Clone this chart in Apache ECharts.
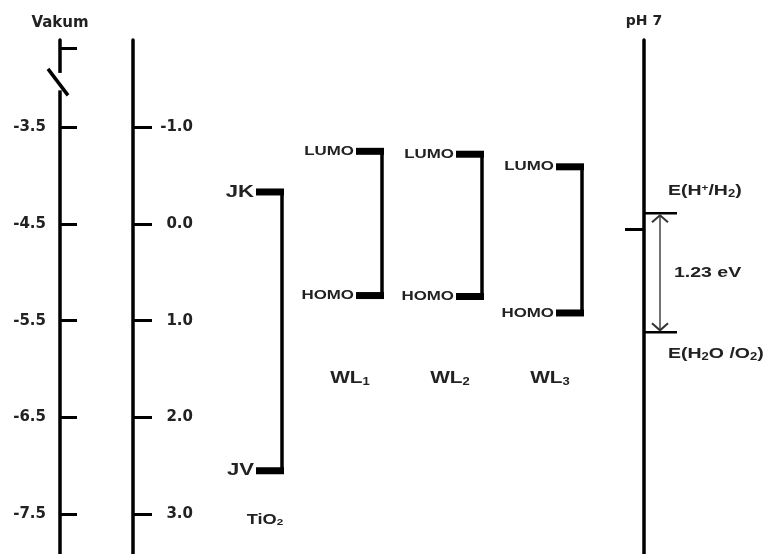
<!DOCTYPE html>
<html>
<head>
<meta charset="utf-8">
<script src="https://cdn.jsdelivr.net/npm/echarts@6/dist/echarts.min.js"></script>
<style>
  html, body { margin: 0; padding: 0; background: #fff; }
  #chart { width: 774px; height: 554px; }
</style>
</head>
<body>
<div id="chart"></div>
<script>
// energy levels, eV vs vacuum
const vakumTicks = [-3.5, -4.5, -5.5, -6.5, -7.5]
const nheTicks = [-1.0, 0.0, 1.0, 2.0, 3.0]
const materials = ['TiO{sub|2}', 'WL{sub|1}', 'WL{sub|2}', 'WL{sub|3}']
const upperNames = ['JK', 'LUMO', 'LUMO', 'LUMO']
const lowerNames = ['JV', 'HOMO', 'HOMO', 'HOMO']
const upperLevels = [-4.17, -3.75, -3.78, -3.91]
const lowerLevels = [-7.05, -5.24, -5.25, -5.42]
const waterNames = ['E(H{sup|+}/H{sub|2})', 'E(H{sub|2}O /O{sub|2})']
const waterLevels = [-4.39, -5.62]
const gapLabel = '1.23 eV'
const phMark = -4.55
const vakumBreak = [-2.94, -3.12]
const vakumTopTick = -2.69

const yTop = -2.6
const yBottom = -7.91
const nheZero = -4.5

const ink = '#222'
const axisFont = { fontFamily: 'DejaVu Sans', fontWeight: 'bold', fontSize: 15, color: ink }

function rich(size) {
  const base = { fontFamily: 'Liberation Sans', fontWeight: 'bold', fill: ink }
  return {
    sub: Object.assign({ fontSize: Math.round(size * 0.65), verticalAlign: 'bottom', padding: [4, 0, 0, 0] }, base),
    sup: Object.assign({ fontSize: Math.round(size * 0.6), verticalAlign: 'top', padding: [0, 0, 6, 0] }, base)
  }
}

function label(x, y, text, size, align) {
  return {
    type: 'text',
    x: x,
    y: y,
    scaleX: 1.3,
    style: {
      text: text,
      fontFamily: 'Liberation Sans',
      fontWeight: 'bold',
      fontSize: size,
      fill: ink,
      align: align,
      verticalAlign: 'middle',
      rich: rich(size)
    }
  }
}

function renderLevels(params, api) {
  const i = params.dataIndex
  const up = api.coord([i, api.value(1)])
  const lo = api.coord([i, api.value(2)])
  const xc = up[0]
  const tio2 = i === 0
  const size = tio2 ? 17 : 13
  const namePos = tio2 ? [xc - 5, lo[1] + 49] : [xc - 20, api.coord([i, -6.1])[1]]
  return {
    type: 'group',
    children: [
      { type: 'rect', shape: { x: xc - 14, y: up[1] - 3.5, width: 28, height: 7 }, style: { fill: '#000' } },
      { type: 'rect', shape: { x: xc - 14, y: lo[1] - 3.5, width: 28, height: 7 }, style: { fill: '#000' } },
      { type: 'line', shape: { x1: xc + 12, y1: up[1], x2: xc + 12, y2: lo[1] }, style: { stroke: '#000', lineWidth: 3.5 } },
      label(xc - 16, up[1], upperNames[i], size, 'right'),
      label(xc - 16, lo[1], lowerNames[i], size, 'right'),
      label(namePos[0], namePos[1], materials[i], tio2 ? 14 : 16, 'center')
    ]
  }
}

function renderWater(params, api) {
  const a = api.coord([1, api.value(1)])
  const b = api.coord([1, api.value(2)])
  const x = a[0]
  const ax = x + 16
  return {
    type: 'group',
    children: [
      { type: 'line', shape: { x1: x, y1: a[1], x2: x + 33, y2: a[1] }, style: { stroke: '#000', lineWidth: 2.5 } },
      { type: 'line', shape: { x1: x, y1: b[1], x2: x + 33, y2: b[1] }, style: { stroke: '#000', lineWidth: 2.5 } },
      { type: 'line', shape: { x1: ax, y1: a[1] + 2, x2: ax, y2: b[1] - 2 }, style: { stroke: '#444', lineWidth: 1.5 } },
      { type: 'polyline', shape: { points: [[ax - 8, a[1] + 9], [ax, a[1] + 2], [ax + 8, a[1] + 9]] }, style: { stroke: '#333', lineWidth: 2, fill: null } },
      { type: 'polyline', shape: { points: [[ax - 8, b[1] - 9], [ax, b[1] - 2], [ax + 8, b[1] - 9]] }, style: { stroke: '#333', lineWidth: 2, fill: null } },
      label(x + 24, a[1] - 22, waterNames[0], 15, 'left'),
      label(x + 30, (a[1] + b[1]) / 2, gapLabel, 15, 'left'),
      label(x + 24, b[1] + 22, waterNames[1], 15, 'left')
    ]
  }
}

function renderBreak(params, api) {
  const a = api.coord([0, api.value(1)])
  const b = api.coord([0, api.value(2)])
  const x = a[0]
  return {
    type: 'group',
    children: [
      { type: 'rect', shape: { x: x - 4, y: a[1], width: 8, height: b[1] - a[1] }, style: { fill: '#fff' } },
      { type: 'line', shape: { x1: x - 12, y1: a[1] - 4, x2: x + 8, y2: b[1] + 5 }, style: { stroke: '#000', lineWidth: 3.5 } }
    ]
  }
}

const chart = echarts.init(document.getElementById('chart'))

chart.setOption({
  animation: false,
  grid: [
    { left: 60, right: 130, top: 40, bottom: 0, outerBoundsMode: 'none' },
    { left: 220, right: 154, top: 40, bottom: 0, outerBoundsMode: 'none' }
  ],
  xAxis: [
    { gridIndex: 0, type: 'value', min: 0, max: 1, show: false },
    { gridIndex: 1, type: 'category', data: materials, show: false }
  ],
  yAxis: [
    {
      gridIndex: 0,
      position: 'left',
      min: yBottom,
      max: yTop,
      name: 'Vakum',
      nameLocation: 'end',
      nameGap: 9,
      nameTextStyle: axisFont,
      axisLine: { show: true, lineStyle: { color: '#000', width: 3.5 } },
      axisTick: { show: true, inside: true, length: 17, customValues: vakumTicks.concat([vakumTopTick]), lineStyle: { color: '#000', width: 3 } },
      axisLabel: { customValues: vakumTicks, margin: 14, formatter: v => v.toFixed(1), ...axisFont },
      splitLine: { show: false }
    },
    {
      gridIndex: 0,
      position: 'left',
      offset: -73,
      inverse: true,
      min: nheZero - yTop,
      max: nheZero - yBottom,
      name: 'NHE',
      nameLocation: 'end',
      nameGap: 9,
      nameTextStyle: axisFont,
      axisLine: { show: true, lineStyle: { color: '#000', width: 3.5 } },
      axisTick: { show: true, inside: true, length: 19, customValues: nheTicks, lineStyle: { color: '#000', width: 3 } },
      axisLabel: { customValues: nheTicks, inside: true, align: 'right', margin: 60, formatter: v => v.toFixed(1), ...axisFont },
      splitLine: { show: false }
    },
    {
      gridIndex: 0,
      position: 'right',
      min: yBottom,
      max: yTop,
      name: 'pH 7',
      nameLocation: 'end',
      nameGap: 12,
      nameTextStyle: Object.assign({}, axisFont, { fontSize: 14 }),
      axisLine: { show: true, lineStyle: { color: '#000', width: 3.5 } },
      axisTick: { show: true, inside: true, length: 19, customValues: [phMark], lineStyle: { color: '#000', width: 3 } },
      axisLabel: { show: false },
      splitLine: { show: false }
    },
    { gridIndex: 1, min: yBottom, max: yTop, show: false }
  ],
  series: [
    {
      type: 'custom',
      xAxisIndex: 1,
      yAxisIndex: 3,
      clip: false,
      renderItem: renderLevels,
      data: materials.map((m, i) => [i, upperLevels[i], lowerLevels[i]])
    },
    {
      type: 'custom',
      xAxisIndex: 0,
      yAxisIndex: 2,
      clip: false,
      renderItem: renderWater,
      data: [[1, waterLevels[0], waterLevels[1]]]
    },
    {
      type: 'custom',
      xAxisIndex: 0,
      yAxisIndex: 0,
      clip: false,
      renderItem: renderBreak,
      data: [[0, vakumBreak[0], vakumBreak[1]]]
    }
  ]
})
</script>
</body>
</html>
